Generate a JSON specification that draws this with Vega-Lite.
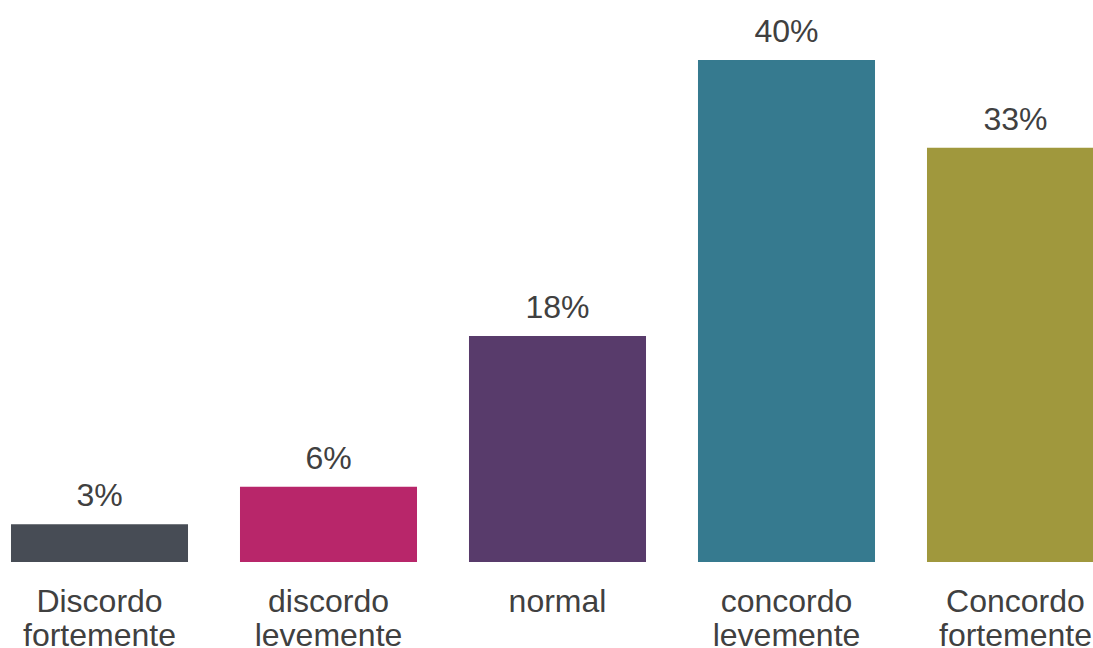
{
  "$schema": "https://vega.github.io/schema/vega-lite/v6.json",
  "width": 1115,
  "height": 562,
  "autosize": {"type": "none"},
  "padding": {"left": 0, "top": 0, "right": 0, "bottom": 90},
  "background": "white",
  "config": {"view": {"stroke": null}, "font": "Liberation Sans"},
  "data": {"values": [
    {"cat": "Discordo fortemente", "value": 0.03},
    {"cat": "discordo levemente", "value": 0.06},
    {"cat": "normal", "value": 0.18},
    {"cat": "concordo levemente", "value": 0.40},
    {"cat": "Concordo fortemente", "value": 0.33}
  ]},
  "encoding": {
    "x": {
      "field": "cat", "type": "nominal", "sort": null,
      "scale": {"paddingInner": 0.227, "paddingOuter": 0.048},
      "axis": {
        "title": null, "domain": false, "ticks": false, "labelAngle": 0,
        "labelFont": "Liberation Sans", "labelFontSize": 32, "labelColor": "#404040",
        "labelPadding": 24, "labelLineHeight": 34,
        "labelExpr": "split(datum.value, ' ')"
      }
    },
    "y": {
      "field": "value", "type": "quantitative",
      "scale": {"domain": [0, 0.4478], "nice": false, "zero": true},
      "axis": null
    }
  },
  "layer": [
    {
      "mark": {"type": "bar"},
      "encoding": {
        "color": {
          "field": "cat", "type": "nominal", "legend": null,
          "scale": {
            "domain": ["Discordo fortemente", "discordo levemente", "normal", "concordo levemente", "Concordo fortemente"],
            "range": ["#474C55", "#B8266A", "#583B6B", "#367A8F", "#A0983D"]
          }
        }
      }
    },
    {
      "mark": {"type": "text", "baseline": "alphabetic", "dy": -18, "fontSize": 32, "font": "Liberation Sans", "color": "#404040"},
      "encoding": {
        "text": {"field": "value", "type": "quantitative", "format": ".0%"}
      }
    }
  ]
}
